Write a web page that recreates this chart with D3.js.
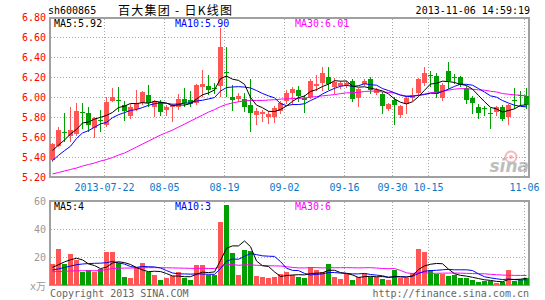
<!DOCTYPE html>
<html><head><meta charset="utf-8">
<script src="https://cdn.jsdelivr.net/npm/d3@7"></script>
<style>
body{margin:0;background:#fff;}
svg{display:block;}
text{font-family:"DejaVu Sans Mono",monospace;font-size:10px;}
</style></head><body>
<svg id="c" width="545" height="300"></svg>
<script>
const dates = ["2013-07-09","2013-07-10","2013-07-11","2013-07-12","2013-07-15","2013-07-16","2013-07-17","2013-07-18","2013-07-19","2013-07-22",
"2013-07-23","2013-07-24","2013-07-25","2013-07-26","2013-07-29","2013-07-30","2013-07-31","2013-08-01","2013-08-02","2013-08-05",
"2013-08-06","2013-08-07","2013-08-08","2013-08-09","2013-08-12","2013-08-13","2013-08-14","2013-08-15","2013-08-16","2013-08-19",
"2013-08-20","2013-08-21","2013-08-22","2013-08-23","2013-08-26","2013-08-27","2013-08-28","2013-08-29","2013-08-30","2013-09-02",
"2013-09-03","2013-09-04","2013-09-05","2013-09-06","2013-09-09","2013-09-10","2013-09-11","2013-09-12","2013-09-13","2013-09-16",
"2013-09-17","2013-09-18","2013-09-23","2013-09-24","2013-09-25","2013-09-26","2013-09-27","2013-09-30","2013-10-08","2013-10-09",
"2013-10-10","2013-10-11","2013-10-14","2013-10-15","2013-10-16","2013-10-17","2013-10-18","2013-10-21","2013-10-22","2013-10-23",
"2013-10-24","2013-10-25","2013-10-28","2013-10-29","2013-10-30","2013-10-31","2013-11-01","2013-11-04","2013-11-05","2013-11-06"];

const open = [5.374,5.514,5.65,5.608,5.631,5.855,5.842,5.692,5.768,5.725,
5.966,5.973,5.919,5.809,5.886,5.942,6.019,5.899,5.952,5.876,
5.899,5.899,5.986,5.976,5.942,6.10,6.11,6.096,6.11,6.256,
6.0,5.986,5.982,5.919,5.819,5.832,5.799,5.802,5.859,5.959,
6.043,6.076,5.992,5.999,6.116,6.143,6.20,6.10,6.11,6.12,
6.166,5.993,6.136,6.183,6.043,6.033,5.886,5.976,5.825,5.932,
5.993,6.043,6.143,6.22,6.21,5.993,6.267,6.20,6.20,6.093,
5.993,5.899,5.892,5.842,5.852,5.899,5.799,5.976,6.019,6.009];
const high = [5.54,5.70,5.842,5.899,5.94,5.94,5.899,5.80,5.876,6.003,
6.09,6.10,5.96,5.93,6.076,6.066,6.126,5.976,5.976,5.919,
5.932,6.033,6.093,6.06,6.133,6.277,6.22,6.143,6.688,6.50,
6.126,6.043,6.043,6.183,5.892,5.875,5.859,5.909,5.959,6.076,
6.10,6.11,6.026,6.177,6.22,6.30,6.30,6.193,6.16,6.16,
6.177,6.093,6.177,6.20,6.093,6.053,5.942,6.003,5.919,6.009,
6.093,6.193,6.30,6.26,6.243,6.143,6.354,6.227,6.21,6.11,
6.009,5.932,5.909,5.892,5.909,5.919,5.932,6.093,6.066,6.093];
const low = [5.36,5.51,5.565,5.565,5.62,5.69,5.665,5.598,5.658,5.71,
5.96,5.86,5.775,5.79,5.876,5.932,5.909,5.809,5.825,5.825,
5.765,5.886,5.909,5.909,5.932,6.009,6.033,6.043,6.009,6.009,
5.876,5.96,5.859,5.658,5.732,5.758,5.742,5.752,5.842,5.942,
5.93,5.966,5.849,5.993,6.076,6.076,6.086,6.043,6.093,6.10,
5.959,5.909,6.126,6.043,6.033,5.842,5.876,5.732,5.799,5.842,
5.976,6.026,6.126,6.11,6.0,5.976,6.093,6.143,6.11,5.942,
5.842,5.792,5.825,5.692,5.825,5.775,5.732,5.892,5.919,5.892];
const close = [5.531,5.675,5.645,5.675,5.859,5.85,5.725,5.792,5.764,5.952,
6.003,5.97,5.859,5.899,5.942,6.053,5.942,5.959,5.852,5.899,
5.919,5.986,5.942,5.932,6.126,6.133,6.076,6.093,6.501,6.253,
5.976,6.016,5.899,5.842,5.866,5.849,5.832,5.892,5.939,6.043,
6.083,6.016,5.976,6.166,6.133,6.243,6.133,6.15,6.143,6.14,
5.983,6.086,6.166,6.076,6.076,5.909,5.932,5.919,5.909,5.993,
6.019,6.183,6.243,6.217,6.033,6.126,6.16,6.197,6.126,5.976,
5.942,5.842,5.889,5.839,5.899,5.785,5.919,5.973,6.016,5.919];
const volume = [14.7,25.5,14.8,22.5,18.0,9.0,11.0,9.0,11.5,23.3,
23.8,15.4,5.9,4.9,12.2,15.4,9.2,7.5,3.8,5.1,
6.6,9.0,5.1,3.8,14.0,14.0,7.5,7.5,44.7,57.4,
22.6,7.4,25.2,24.5,6.1,5.5,4.9,5.9,8.0,9.5,
7.5,5.9,5.2,13.0,10.5,9.0,14.7,5.5,4.5,7.6,
3.5,5.9,8.3,5.6,6.0,4.3,3.3,10.5,5.0,5.0,
8.8,26.0,23.4,10.9,7.8,7.8,6.6,7.2,5.0,5.0,
3.6,2.2,2.8,2.8,1.5,2.2,10.5,2.8,3.6,5.0];
const ma5 = [5.465,5.52,5.57,5.63,5.677,5.741,5.751,5.780,5.798,5.817,
5.847,5.896,5.910,5.937,5.935,5.945,5.939,5.959,5.950,5.941,
5.914,5.923,5.920,5.936,5.981,6.024,6.042,6.072,6.186,6.211,
6.180,6.168,6.129,5.997,5.920,5.894,5.858,5.856,5.876,5.911,
5.958,5.995,6.011,6.057,6.075,6.107,6.130,6.165,6.160,6.162,
6.110,6.100,6.104,6.090,6.077,6.063,6.032,5.982,5.949,5.932,
5.954,6.005,6.069,6.131,6.139,6.160,6.156,6.147,6.128,6.117,
6.080,6.017,5.955,5.898,5.882,5.851,5.866,5.883,5.918,5.922];
const ma10 = [5.364,5.417,5.464,5.508,5.585,5.641,5.665,5.698,5.732,5.747,
5.794,5.824,5.845,5.867,5.876,5.896,5.918,5.934,5.943,5.938,
5.929,5.931,5.939,5.943,5.961,5.969,5.982,5.996,6.061,6.096,
6.102,6.105,6.101,6.092,6.066,6.037,6.013,5.993,5.936,5.915,
5.926,5.926,5.934,5.966,5.993,6.032,6.062,6.088,6.109,6.118,
6.108,6.115,6.134,6.125,6.120,6.086,6.066,6.043,6.020,6.005,
6.009,6.018,6.026,6.040,6.036,6.057,6.080,6.108,6.130,6.128,
6.120,6.086,6.051,6.013,6.000,5.966,5.941,5.919,5.908,5.902];
const ma30 = [5.23,5.245,5.26,5.275,5.29,5.31,5.325,5.34,5.36,5.375,
5.395,5.42,5.44,5.47,5.50,5.53,5.56,5.59,5.62,5.645,
5.67,5.70,5.73,5.76,5.79,5.82,5.85,5.875,5.905,5.927,
5.942,5.953,5.962,5.967,5.967,5.967,5.971,5.974,5.980,5.983,
5.986,5.987,5.991,6.000,6.006,6.013,6.019,6.026,6.035,6.043,
6.045,6.049,6.056,6.061,6.059,6.052,6.047,6.041,6.022,6.013,
6.014,6.020,6.031,6.044,6.049,6.059,6.070,6.080,6.086,6.084,
6.079,6.073,6.070,6.059,6.052,6.036,6.029,6.023,6.019,6.012];
const vma5 = [12.6,14.5,16.5,18.0,19.1,17.96,15.06,13.9,11.7,12.76,
15.72,16.6,15.98,14.66,12.44,10.76,9.52,9.84,9.62,8.2,
6.44,6.4,5.92,5.92,7.7,9.18,8.88,9.36,17.54,26.22,
27.94,27.92,31.46,27.42,17.16,13.74,13.24,9.38,6.08,6.76,
7.16,7.36,7.22,8.22,8.42,8.72,10.48,10.54,8.84,8.26,
7.16,5.4,5.96,6.18,5.86,6.02,5.5,5.94,5.82,5.62,
6.52,11.06,13.64,14.82,15.38,15.18,11.3,8.06,6.88,6.32,
5.48,4.6,3.72,3.28,2.58,2.3,3.96,3.96,4.12,4.82];
const vma10 = [10.7,11.5,12.5,13.5,14.5,15.0,15.3,15.5,15.6,15.93,
16.84,15.83,14.94,13.18,12.6,13.24,13.06,12.91,12.14,10.32,
8.6,7.96,7.88,7.77,7.95,7.81,7.64,7.64,11.73,16.96,
18.56,18.4,20.41,22.48,21.69,20.84,20.58,20.42,16.75,11.96,
10.45,10.3,8.3,7.15,7.59,7.94,8.92,8.88,8.53,8.34,
7.94,7.94,8.25,7.51,7.06,6.59,5.45,5.95,6.0,5.74,
6.27,8.28,9.79,10.32,10.5,10.85,11.18,10.85,10.85,10.85,
10.33,7.95,5.89,5.08,4.45,3.89,4.28,3.84,3.7,3.7];
const vma30 = [9.5,9.6,9.8,10.0,10.1,10.2,10.2,10.2,10.3,11.0,
11.8,12.0,12.1,12.1,12.2,12.3,12.4,12.4,12.4,12.3,
12.2,12.1,12.0,11.9,11.9,11.9,11.8,11.8,12.9,14.4,
14.67,14.06,14.41,14.48,14.08,13.96,13.76,13.66,13.54,13.08,
12.54,12.22,12.2,12.47,12.41,12.2,12.38,12.31,12.34,12.42,
12.32,12.21,12.32,12.38,12.11,11.79,11.65,11.75,10.43,8.68,
8.22,8.84,8.78,8.33,8.38,8.46,8.52,8.56,8.46,8.31,
8.18,8.06,7.98,7.64,7.34,7.11,6.97,6.88,6.85,6.76];

const priceTicks = [5.2,5.4,5.6,5.8,6.0,6.2,6.4,6.6,6.8];
const volTicks = [20,40,60];
const xTickDates = ["2013-07-22","2013-08-05","2013-08-19","2013-09-02","2013-09-16","2013-09-30","2013-10-15","2013-11-06"];
const xTickLabels = ["2013-07-22","08-05","08-19","09-02","09-16","09-30","10-15","11-06"];
const code = "sh600865";
const title = "百大集团 - 日K线图";
const stamp = "2013-11-06 14:59:19";
const maLabels = ["MA5:5.92","MA10:5.90","MA30:6.01"];
const vmaLabels = ["MA5:4","MA10:3","MA30:6"];

const UP="#ff5555", DOWN="#00a000", GRID="#a8a8a8", FRAME="#a0a0a0";
const L=50, R=529, mTop=18, mBot=177, vTop=201, vBot=285;

const svg = d3.select("#c");
const x = d3.scalePoint().domain(dates).range([52.5,526.5]);
const y = d3.scaleLinear().domain([5.2,6.8]).range([177,17.3]);
const yv = d3.scaleLinear().domain([0,60]).range([285,201]);

// header
svg.append("text").attr("x",48).attr("y",14).attr("fill","#000").text(code);
svg.append("text").attr("x",118).attr("y",14.5).attr("fill","#000")
  .style("font-family","'Noto Sans CJK SC',sans-serif").style("font-size","12px")
  .attr("textLength",114).attr("lengthAdjust","spacing")
  .text(title);
svg.append("text").attr("x",530).attr("y",14).attr("text-anchor","end").attr("fill","#000").text(stamp);

// frames
function frame(t,b){
  svg.append("rect").attr("x",L).attr("y",t).attr("width",R-L).attr("height",b-t)
    .attr("fill","none").attr("stroke",FRAME).attr("stroke-width",2).attr("shape-rendering","crispEdges");
}
frame(mTop,mBot); frame(vTop,vBot);

// horizontal grid main
const gm = svg.append("g");
priceTicks.filter(t=>t>5.21 && t<6.79).forEach(t=>{
  const yy = Math.round(y(t))+0.5;
  gm.append("line").attr("x1",L+1).attr("x2",R-1).attr("y1",yy).attr("y2",yy)
    .attr("stroke",GRID).attr("stroke-dasharray","1,2");
});
// vertical grid
xTickDates.forEach(d=>{
  const xx = Math.round(x(d)-2.5)+0.5;
  [[mTop+1,mBot-1],[vTop+1,vBot-1]].forEach(([a,b])=>{
    gm.append("line").attr("x1",xx).attr("x2",xx).attr("y1",a).attr("y2",b)
      .attr("stroke",GRID).attr("stroke-dasharray","1,2");
  });
});
// vol horizontal grid
volTicks.filter(t=>t<60).forEach(t=>{
  const yy = Math.round(yv(t))+0.5;
  gm.append("line").attr("x1",L+1).attr("x2",R-1).attr("y1",yy).attr("y2",yy)
    .attr("stroke",GRID).attr("stroke-dasharray","1,2");
});

// price labels
priceTicks.forEach(t=>{
  svg.append("text").attr("x",46).attr("y",y(t)).attr("dy","0.36em").attr("text-anchor","end")
    .attr("fill","#ff0000").text(t.toFixed(2));
});
// volume labels
volTicks.forEach(t=>{
  svg.append("text").attr("x",46).attr("y",yv(t)).attr("dy","0.36em").attr("text-anchor","end")
    .attr("fill","#999").text(t);
});
svg.append("text").attr("x",30).attr("y",290).attr("fill","#999")
  .style("font-family","'DejaVu Sans Mono','Noto Sans CJK SC',monospace").text("x万");
// x labels
xTickDates.forEach((d,i)=>{
  svg.append("text").attr("x",x(d)-2).attr("y",191).attr("text-anchor","middle")
    .attr("fill","#0a78c8").text(xTickLabels[i]);
});

// sina watermark
const wm = svg.append("g").attr("opacity",0.55);
wm.append("circle").attr("cx",511).attr("cy",157).attr("r",5.5).attr("fill","none").attr("stroke","#f08080").attr("stroke-width",2);
wm.append("circle").attr("cx",511).attr("cy",157).attr("r",2).attr("fill","#f08080");
wm.append("text").attr("x",529).attr("y",172).attr("text-anchor","end").attr("fill","#888")
  .style("font-family","'DejaVu Sans',sans-serif").style("font-size","17px").style("font-weight","bold").style("font-style","italic").text("sina");

// candles
const data = dates.map((d,i)=>({d,o:open[i],h:high[i],l:low[i],c:close[i],v:volume[i]}));
const cg = svg.append("g");
data.forEach(k=>{
  const col = k.c>=k.o ? UP : DOWN;
  const cx = x(k.d);
  cg.append("line").attr("x1",cx).attr("x2",cx).attr("y1",Math.round(y(k.h))).attr("y2",Math.round(y(k.l))+1)
    .attr("stroke",col).attr("stroke-width",1);
  const t = Math.round(y(Math.max(k.o,k.c))), b = Math.round(y(Math.min(k.o,k.c)));
  cg.append("rect").attr("x",cx-2.5).attr("y",t).attr("width",5).attr("height",Math.max(1,b-t))
    .attr("fill",col).attr("shape-rendering","crispEdges");
  const vt = Math.round(yv(k.v));
  cg.append("rect").attr("x",cx-2.5).attr("y",vt).attr("width",5).attr("height",vBot-vt)
    .attr("fill",col).attr("shape-rendering","crispEdges");
});

// MA lines
function maLine(arr,scale,color){
  const ln = d3.line().x((v,i)=>x(dates[i])).y(v=>scale(v));
  svg.append("path").attr("d",ln(arr)).attr("fill","none").attr("stroke",color).attr("stroke-width",1);
}
maLine(ma30,y,"#ff00ff"); maLine(ma10,y,"#0000ff"); maLine(ma5,y,"#000000");
maLine(vma30,yv,"#ff00ff"); maLine(vma10,yv,"#0000ff"); maLine(vma5,yv,"#000000");

// MA labels
const maCols=["#000","#0000ff","#ff00ff"], maX=[54,175,295];
maLabels.forEach((t,i)=>svg.append("text").attr("x",maX[i]).attr("y",27).attr("fill",maCols[i]).text(t));
vmaLabels.forEach((t,i)=>svg.append("text").attr("x",maX[i]).attr("y",210).attr("fill",maCols[i]).text(t));

// footer
svg.append("text").attr("x",50).attr("y",297).attr("fill","#666").text("Copyright 2013 SINA.COM");
svg.append("text").attr("x",529).attr("y",297).attr("text-anchor","end").attr("fill","#666").text("http://finance.sina.com.cn");
</script></body></html>
